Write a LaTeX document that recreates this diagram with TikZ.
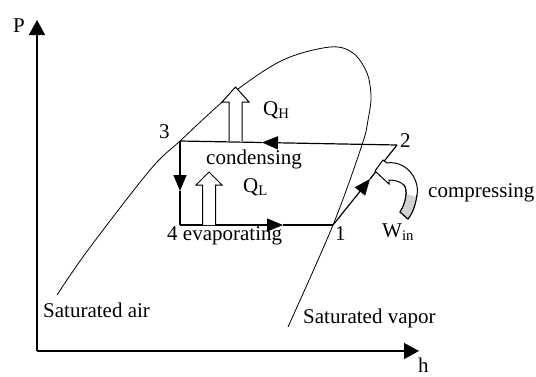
\documentclass[tikz,border=0pt]{standalone}
\usepackage{fontspec}
\setmainfont{Liberation Serif}
\usetikzlibrary{arrows.meta}
\begin{document}
\begin{tikzpicture}[x=1pt,y=-1pt,
  lbl/.style={inner sep=0pt,anchor=base west,font=\fontsize{21}{25}\selectfont},
  axisline/.style={line width=1.4pt,-{Triangle[length=15pt,width=16pt]}},
  cyc/.style={line width=1.2pt},
  cycarr/.style={line width=1.2pt,-{Triangle[length=16pt,width=13pt]}},
  dome/.style={line width=0.8pt},
  hollow/.style={line width=1pt,fill=white,draw=black}]
\useasboundingbox (0,0) rectangle (536,376);
% axes
\coordinate (o) at (37,351);
\coordinate (ptop) at (37,20);
\coordinate (hend) at (419,351);
\draw[axisline] (o) -- (ptop);
\draw[axisline] (o) -- (hend);
\node[lbl] (P) at (13,32) {P};
\node[lbl] (h) at (418,372) {h};
% saturation dome
\draw[dome] plot[smooth,tension=0.55] coordinates {(57,295) (88,250) (150,170) (180,141) (233,93) (283,60) (330,47) (353,53) (367,73) (371,97) (368,120) (362,145) (333,225) (288,327)};
% cycle points
\coordinate (p1) at (333,225);
\coordinate (p2) at (397,145);
\coordinate (p3) at (180,141);
\coordinate (p4) at (180,225);
\coordinate (t23) at (262,142.5);
\coordinate (t34) at (180,191);
\coordinate (t41) at (283,225);
\coordinate (t12) at (370,179);
\draw[cycarr] (p2) -- (t23);
\draw[cyc] (t23) -- (p3);
\draw[cycarr] (p3) -- (t34);
\draw[cyc] (t34) -- (p4);
\draw[cycarr] (p4) -- (t41);
\draw[cyc] (t41) -- (p1);
\draw[cycarr] (p1) -- (t12);
\draw[cyc] (t12) -- (p2);
% hollow heat arrows
\draw[hollow] (229,141) -- (229,102) -- (222,102) -- (235.5,87) -- (249,102) -- (242,102) -- (242,141);
\draw[hollow] (202.5,225) -- (202.5,185) -- (196,185) -- (209,172) -- (222,185) -- (215.5,185) -- (215.5,225);
% curved work arrow
\draw[hollow] (375,171) -- (383,160) -- (387,163)
  .. controls (405,160) and (420,178) .. (417,195)
  .. controls (415,207) and (412,214) .. (408,219)
  -- (400,212)
  .. controls (406,203) and (408,190) .. (404,185)
  .. controls (400,181) and (393,180) .. (389,180)
  -- (389,184) -- cycle;
\fill[gray!35] (416.5,197) .. controls (414.5,207) and (411.5,214) .. (407.5,218.3)
  -- (401,212) .. controls (404.5,206) and (406.5,200) .. (406.5,194) -- cycle;
\draw[line width=1pt] (417,195)
  .. controls (415,207) and (412,214) .. (408,219)
  -- (400,212)
  .. controls (406,203) and (408,190) .. (404,185);
% labels
\node[lbl] (l3) at (159,138) {3};
\node[lbl] (l2) at (400,147) {2};
\node[lbl] (l1) at (335,240) {1};
\node[lbl] (l4) at (167,240) {4 evaporating};
\node[lbl] (cond) at (206,164) {condensing};
\node[lbl] (qh) at (263,115) {Q\textsubscript{H}};
\node[lbl] (ql) at (243,192) {Q\textsubscript{L}};
\node[lbl] (win) at (382,237) {W\textsubscript{in}};
\node[lbl] (comp) at (428,197) {compressing};
\node[lbl] (sa) at (43,317) {Saturated air};
\node[lbl] (sv) at (303,323) {Saturated vapor};
\end{tikzpicture}
\end{document}
